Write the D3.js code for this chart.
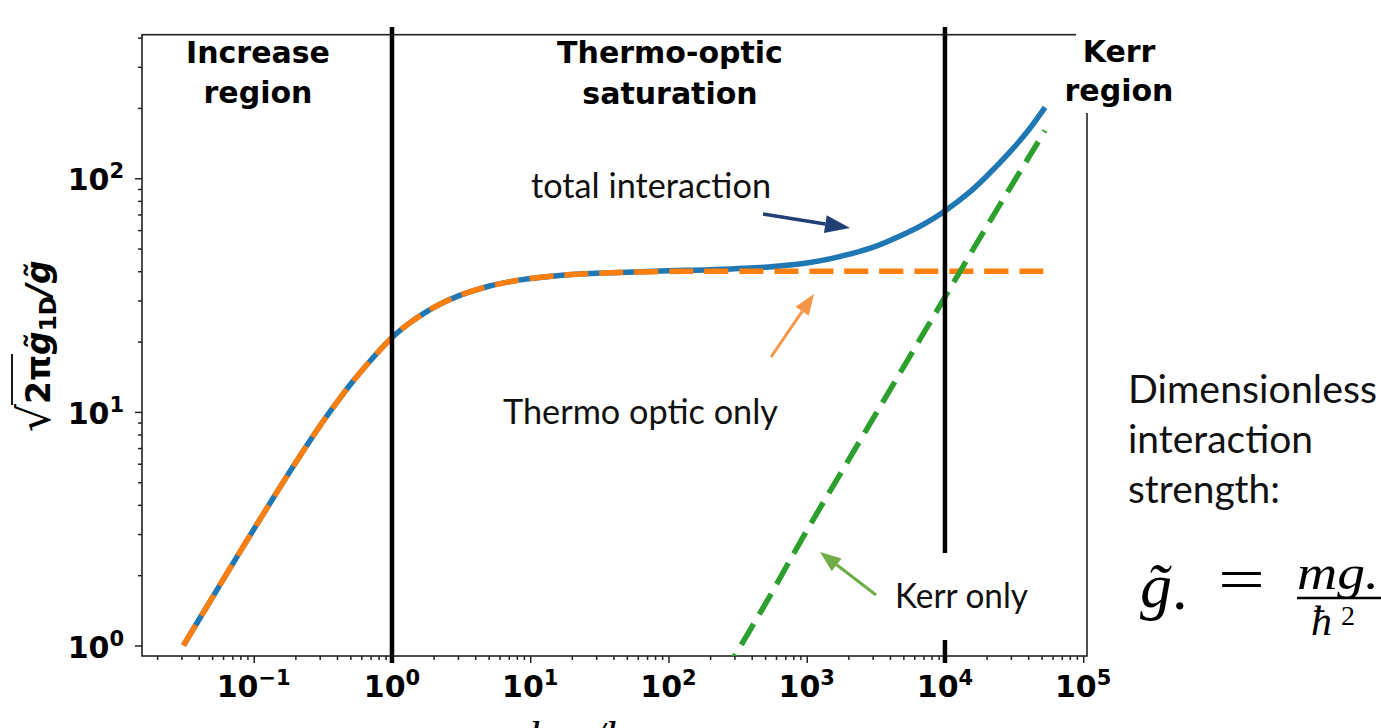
<!DOCTYPE html>
<html>
<head>
<meta charset="utf-8">
<script src="https://cdn.jsdelivr.net/npm/d3@7"></script>
<style>
  html, body { margin: 0; padding: 0; background: #fff; }
  svg { display: block; }
</style>
</head>
<body>
<svg id="chart" width="1381" height="728"></svg>
<script>
// ---- data -------------------------------------------------------------
// length ratio samples shared by the thermo-optic and total curves
const xSamples = [0.031, 0.05, 0.1, 0.2, 0.3, 0.4, 0.5, 0.7, 1, 1.3, 1.7, 2.2,
                  3, 4, 5, 7, 10, 15, 20, 30, 50, 100, 200, 500, 1000, 1500, 2000, 3000, 5000,
                  7000, 10000, 15000, 20000, 30000, 40000, 53000];
// thermo-optic contribution only
const thermoValues = [1.0, 1.60, 3.14, 6.04, 8.68, 11.0, 13.1, 16.6, 20.8, 23.7, 26.4, 28.8,
                      31.3, 33.2, 34.5, 36.0, 37.2, 38.2, 38.7, 39.2, 39.6, 39.9, 40, 40, 40, 40, 40, 40, 40,
                      40, 40, 40, 40, 40, 40, 40];
// total interaction (thermo-optic + Kerr)
const totalValues = [1.0, 1.60, 3.14, 6.04, 8.68, 11.0, 13.1, 16.6, 20.8, 23.7, 26.4, 28.8,
                     31.3, 33.2, 34.5, 36.0, 37.2, 38.2, 38.7, 39.2, 39.6, 40.2, 40.6, 41.6, 43.4, 45.3, 47.2, 50.6, 57.5,
                     63.5, 72.5, 87, 102, 131, 160, 201];
// Kerr contribution only
const kerrX = [250, 500, 1000, 2000, 5000, 10000, 20000, 53000];
const kerrValues = [0.75, 1.5, 3.1, 6.2, 15.5, 31, 62, 160];

// region boundaries
const regionBounds = [1, 10000];

// axis ticks
const xMajorTicks = [0.1, 1, 10, 100, 1000, 10000, 100000];
const xTickExponents = ["\u22121", "0", "1", "2", "3", "4", "5"];
const yMajorTicks = [1, 10, 100];
const yTickExponents = ["0", "1", "2"];

// ---- layout -----------------------------------------------------------
const plot = { left: 142, right: 1087, top: 34.7, bottom: 656 };
const svg = d3.select("#chart");
svg.append("rect").attr("width", 1381).attr("height", 728).attr("fill", "#fff");

const x = d3.scaleLog()
  .domain([Math.pow(10, -1.8083), Math.pow(10, 5.0275)])
  .range([plot.left, plot.right]);
const y = d3.scaleLog()
  .domain([Math.pow(10, -0.0449), Math.pow(10, 2.6145)])
  .range([plot.bottom, plot.top]);

svg.append("clipPath").attr("id", "plotClip")
  .append("rect")
  .attr("x", plot.left).attr("y", plot.top)
  .attr("width", plot.right - plot.left).attr("height", plot.bottom - plot.top);

// ---- axes ticks -------------------------------------------------------
const isPow10 = v => Math.abs(Math.log10(v) - Math.round(Math.log10(v))) < 1e-9;
const inDomain = (s, v) => v >= s.domain()[0] && v <= s.domain()[1];
const xMinor = x.ticks().filter(v => !isPow10(v) && inDomain(x, v));
const yMinor = y.ticks().filter(v => !isPow10(v) && inDomain(y, v));

function styleAxis(g) {
  g.select(".domain").remove();
  g.selectAll(".tick line").attr("stroke", "#222").attr("stroke-width", 1.5);
}

svg.append("g").attr("transform", `translate(0,${plot.bottom})`)
  .call(d3.axisBottom(x).tickValues(xMajorTicks).tickSize(7).tickFormat(""))
  .call(styleAxis);
svg.append("g").attr("transform", `translate(0,${plot.bottom})`)
  .call(d3.axisBottom(x).tickValues(xMinor).tickSize(4).tickFormat(""))
  .call(styleAxis);
svg.append("g").attr("transform", `translate(${plot.left},0)`)
  .call(d3.axisLeft(y).tickValues(yMajorTicks).tickSize(7).tickFormat(""))
  .call(styleAxis);
svg.append("g").attr("transform", `translate(${plot.left},0)`)
  .call(d3.axisLeft(y).tickValues(yMinor).tickSize(4).tickFormat(""))
  .call(styleAxis);

// tick labels: 10^n in bold
const tickFont = "'DejaVu Sans', sans-serif";
xMajorTicks.forEach((v, i) => {
  const t = svg.append("text")
    .attr("x", x(v)).attr("y", 697)
    .attr("text-anchor", "middle")
    .attr("font-family", tickFont).attr("font-weight", "bold")
    .attr("font-size", 30).attr("fill", "#000");
  t.append("tspan").text("10");
  t.append("tspan").attr("font-size", 21).attr("dy", -12).text(xTickExponents[i]);
});
yMajorTicks.forEach((v, i) => {
  const t = svg.append("text")
    .attr("x", 124).attr("y", y(v) + 12)
    .attr("text-anchor", "end")
    .attr("font-family", tickFont).attr("font-weight", "bold")
    .attr("font-size", 30).attr("fill", "#000");
  t.append("tspan").text("10");
  t.append("tspan").attr("font-size", 21).attr("dy", -12).text(yTickExponents[i]);
});

// ---- frame ------------------------------------------------------------
svg.append("rect")
  .attr("x", plot.left).attr("y", plot.top)
  .attr("width", plot.right - plot.left).attr("height", plot.bottom - plot.top)
  .attr("fill", "none").attr("stroke", "#222").attr("stroke-width", 1.6);

// ---- curves -----------------------------------------------------------
const curves = svg.append("g").attr("clip-path", "url(#plotClip)");
const line = d3.line()
  .x(d => x(d[0])).y(d => y(d[1]))
  .curve(d3.curveCatmullRom.alpha(0.5));

curves.append("path")
  .datum(xSamples.map((v, i) => [v, totalValues[i]]))
  .attr("d", line)
  .attr("fill", "none").attr("stroke", "#1f77b4").attr("stroke-width", 5.5);

curves.append("path")
  .datum(xSamples.map((v, i) => [v, thermoValues[i]]))
  .attr("d", line)
  .attr("fill", "none").attr("stroke", "#ff7f0e").attr("stroke-width", 5.5)
  .attr("stroke-dasharray", "24,11");

curves.append("path")
  .datum(kerrX.map((v, i) => [v, kerrValues[i]]))
  .attr("d", line)
  .attr("fill", "none").attr("stroke", "#2ca02c").attr("stroke-width", 5.5)
  .attr("stroke-dasharray", "24,11");

// ---- region boundaries ------------------------------------------------
svg.selectAll("line.bound").data(regionBounds).enter().append("line")
  .attr("class", "bound")
  .attr("x1", d => x(d)).attr("x2", d => x(d))
  .attr("y1", 27).attr("y2", 663)
  .attr("stroke", "#000").attr("stroke-width", 4.5);

// white label boxes sitting over the frame / boundary
svg.append("rect").attr("x", 1076).attr("y", 18).attr("width", 120).attr("height", 95).attr("fill", "#fff");
svg.append("rect").attr("x", 885).attr("y", 553).attr("width", 155).attr("height", 87).attr("fill", "#fff");

// ---- region titles ----------------------------------------------------
const titles = [
  { lines: ["Increase", "region"], cx: 258, y0: 63, y1: 103 },
  { lines: ["Thermo-optic", "saturation"], cx: 670, y0: 63, y1: 104 },
  { lines: ["Kerr", "region"], cx: 1119, y0: 62, y1: 101 }
];
titles.forEach(t => {
  t.lines.forEach((s, k) => {
    svg.append("text")
      .attr("x", t.cx).attr("y", k === 0 ? t.y0 : t.y1)
      .attr("text-anchor", "middle")
      .attr("font-family", tickFont).attr("font-weight", "bold")
      .attr("font-size", 30).attr("fill", "#000")
      .text(s);
  });
});

// ---- annotations ------------------------------------------------------
const noteFont = "Lato, 'Open Sans', sans-serif";
const notes = [
  { s: "total interaction", x: 531, y: 198, w: 240, fs: 34 },
  { s: "Thermo optic only", x: 503, y: 424, w: 275, fs: 34 },
  { s: "Kerr only", x: 895, y: 608, w: 133, fs: 34 },
  { s: "Dimensionless", x: 1128, y: 403, w: 249, fs: 39 },
  { s: "interaction", x: 1128, y: 453, w: 185, fs: 39 },
  { s: "strength:", x: 1128, y: 503, w: 152, fs: 39 }
];
notes.forEach(n => {
  svg.append("text")
    .attr("x", n.x).attr("y", n.y)
    .attr("font-family", noteFont).attr("font-size", n.fs).attr("fill", "#111")
    .attr("textLength", n.w).attr("lengthAdjust", "spacingAndGlyphs")
    .text(n.s);
});

function arrow(x0, y0, x1, y1, color, lw, hl, hw) {
  const a = Math.atan2(y1 - y0, x1 - x0);
  const bx = x1 - hl * Math.cos(a), by = y1 - hl * Math.sin(a);
  const px = -Math.sin(a) * hw / 2, py = Math.cos(a) * hw / 2;
  svg.append("line")
    .attr("x1", x0).attr("y1", y0).attr("x2", bx).attr("y2", by)
    .attr("stroke", color).attr("stroke-width", lw);
  svg.append("path")
    .attr("d", `M${x1},${y1}L${bx + px},${by + py}L${bx - px},${by - py}Z`)
    .attr("fill", color);
}
arrow(763, 214, 850, 228, "#203f74", 3.5, 25, 18);
arrow(771, 357, 814, 294, "#f79646", 3, 21, 16);
arrow(876, 595, 820, 552, "#70ad47", 3, 21, 16);

// ---- y axis title -----------------------------------------------------
const yTitle = svg.append("g").attr("transform", "translate(50,432) rotate(-90)");
const yt = yTitle.append("text")
  .attr("x", 0).attr("y", 0)
  .attr("font-family", tickFont).attr("font-size", 33).attr("fill", "#000");
yt.append("tspan").attr("font-size", 44).attr("font-weight", "normal").text("\u221A");
yt.append("tspan").attr("font-weight", "bold").text("2\u03C0");
yt.append("tspan").attr("font-weight", "bold").attr("font-style", "italic").text("g\u0303");
yt.append("tspan").attr("font-weight", "bold").attr("font-size", 23).attr("dy", 6).text("1D");
yt.append("tspan").attr("font-weight", "bold").attr("font-style", "italic").attr("dy", -6).text("/g\u0303");
{
  const node = yt.node();
  const xe = node.getEndPositionOfChar(2).x;
  const x0 = node.getEndPositionOfChar(0).x;
  yTitle.append("line")
    .attr("x1", x0 - 1).attr("x2", xe + 1)
    .attr("y1", -38).attr("y2", -38)
    .attr("stroke", "#000").attr("stroke-width", 1.8);
}

// ---- x axis title (bottom edge) ---------------------------------------
const xt = svg.append("text")
  .attr("y", 752)
  .attr("font-family", "'Liberation Serif', serif").attr("font-style", "italic")
  .attr("font-size", 44).attr("fill", "#000");
xt.append("tspan").attr("x", 528).text("l");
xt.append("tspan").attr("x", 592).text("/l");

// ---- definition formula -----------------------------------------------
const serif = "'Liberation Serif', 'DejaVu Serif', serif";
svg.append("text").attr("x", 1140).attr("y", 607)
  .attr("font-family", serif).attr("font-style", "italic").attr("font-size", 64)
  .text("g\u0303");
svg.append("text").attr("x", 1172).attr("y", 609)
  .attr("font-family", serif).attr("font-size", 62).text(".");
svg.append("text").attr("x", 1218).attr("y", 600)
  .attr("font-family", serif).attr("font-size", 62)
  .attr("textLength", 47).attr("lengthAdjust", "spacingAndGlyphs").text("=");
svg.append("text").attr("x", 1297).attr("y", 589)
  .attr("font-family", serif).attr("font-style", "italic").attr("font-size", 48)
  .attr("textLength", 82).attr("lengthAdjust", "spacingAndGlyphs").text("mg.");
svg.append("line").attr("x1", 1297).attr("x2", 1381).attr("y1", 598).attr("y2", 598)
  .attr("stroke", "#000").attr("stroke-width", 2.5);
svg.append("text").attr("x", 1311).attr("y", 635)
  .attr("font-family", serif).attr("font-style", "italic").attr("font-size", 42)
  .text("\u0127");
svg.append("text").attr("x", 1341).attr("y", 625)
  .attr("font-family", serif).attr("font-size", 28).text("2");
</script>
</body>
</html>
